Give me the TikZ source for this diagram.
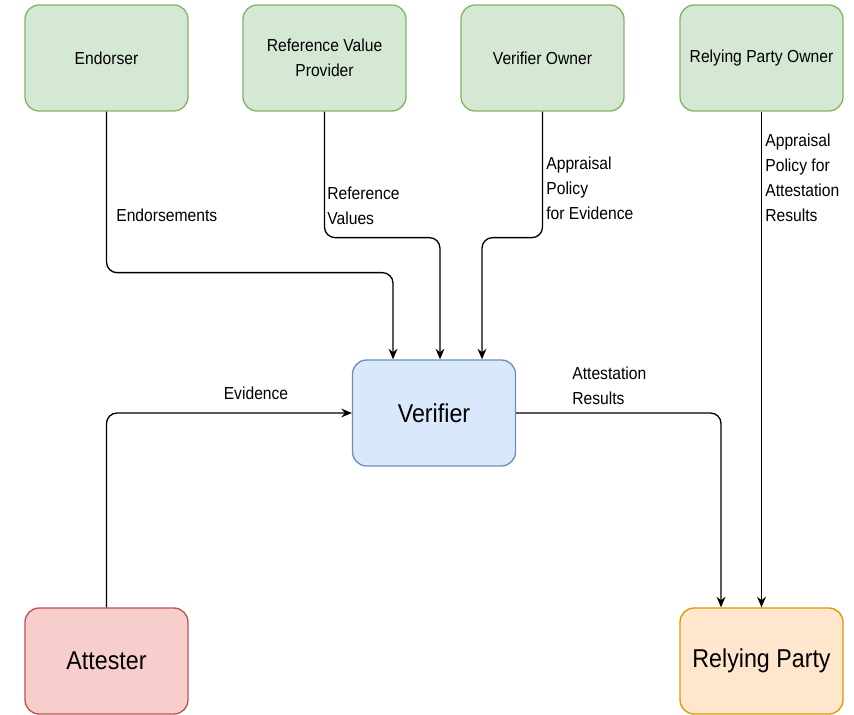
\documentclass[tikz,border=0pt]{standalone}
\usepackage{fontspec}
\setmainfont[FakeStretch=0.9]{Liberation Sans}
\usetikzlibrary{arrows.meta}
\definecolor{greenfill}{HTML}{D5E8D4}
\definecolor{greenline}{HTML}{82B366}
\definecolor{bluefill}{HTML}{DAE8FC}
\definecolor{blueline}{HTML}{6C8EBF}
\definecolor{redfill}{HTML}{F8CECC}
\definecolor{redline}{HTML}{B85450}
\definecolor{orangefill}{HTML}{FFE6CC}
\definecolor{orangeline}{HTML}{D79B00}
\tikzset{
  role/.style={draw,line width=0.75pt,rounded corners=8pt,minimum width=3.26cm,
    minimum height=2.12cm,align=center,font=\fontsize{9.9}{14}\selectfont},
  bigrole/.style={role,font=\fontsize{14.7}{18}\selectfont},
  conn/.style={line width=0.75pt,rounded corners=6pt,-{Stealth[length=6pt,width=5pt]}},
  lbl/.style={inner sep=0pt,align=left,font=\fontsize{9.9}{14.2}\selectfont}
}
\begin{document}
\begin{tikzpicture}[x=0.02cm,y=-0.02cm]
\useasboundingbox (0,0) rectangle (854,715);
%supply chain roles
\node[role,fill=greenfill,draw=greenline] (endorser) at (106.5,58) {Endorser};
\node[role,fill=greenfill,draw=greenline] (rvp) at (324.5,58) {Reference Value\\Provider};
\node[role,fill=greenfill,draw=greenline] (vo) at (542.5,58) {Verifier Owner};
\node[role,fill=greenfill,draw=greenline] (rpo) at (761.5,58) {Relying Party Owner};
%main roles
\node[bigrole,fill=bluefill,draw=blueline] (verifier) at (434,413) {Verifier};
\node[bigrole,fill=redfill,draw=redline] (attester) at (106.5,661) {Attester};
\node[bigrole,fill=orangefill,draw=orangeline] (rp) at (761.5,661) {Relying Party};
%conveyance
\draw[conn] (endorser.south) -- ++(0,161) -| ([xshift=-0.82cm]verifier.north);
\draw[conn] (rvp.south) -- ++(0,126) -| ([xshift=0.12cm]verifier.north);
\draw[conn] (vo.south) -- ++(0,126) -| ([xshift=0.96cm]verifier.north);
\draw[conn] (rpo.south) -- (rp.north);
\draw[conn] (attester.north) |- (verifier.west);
\draw[conn] (verifier.east) -| ([xshift=-0.81cm]rp.north);
%labels
\node[lbl,anchor=west] (lendorse) at (116,215) {Endorsements};
\node[lbl,anchor=west] (lrefval) at (327,205.5) {Reference\\Values};
\node[lbl,anchor=west] (lpolev) at (546,188) {Appraisal\\Policy\\for Evidence};
\node[lbl,anchor=west] (lpolar) at (765,178) {Appraisal\\Policy for\\Attestation\\Results};
\node[lbl] (levid) at (256,393) {Evidence};
\node[lbl,anchor=west] (lresults) at (572,385.5) {Attestation\\Results};
\end{tikzpicture}
\end{document}
